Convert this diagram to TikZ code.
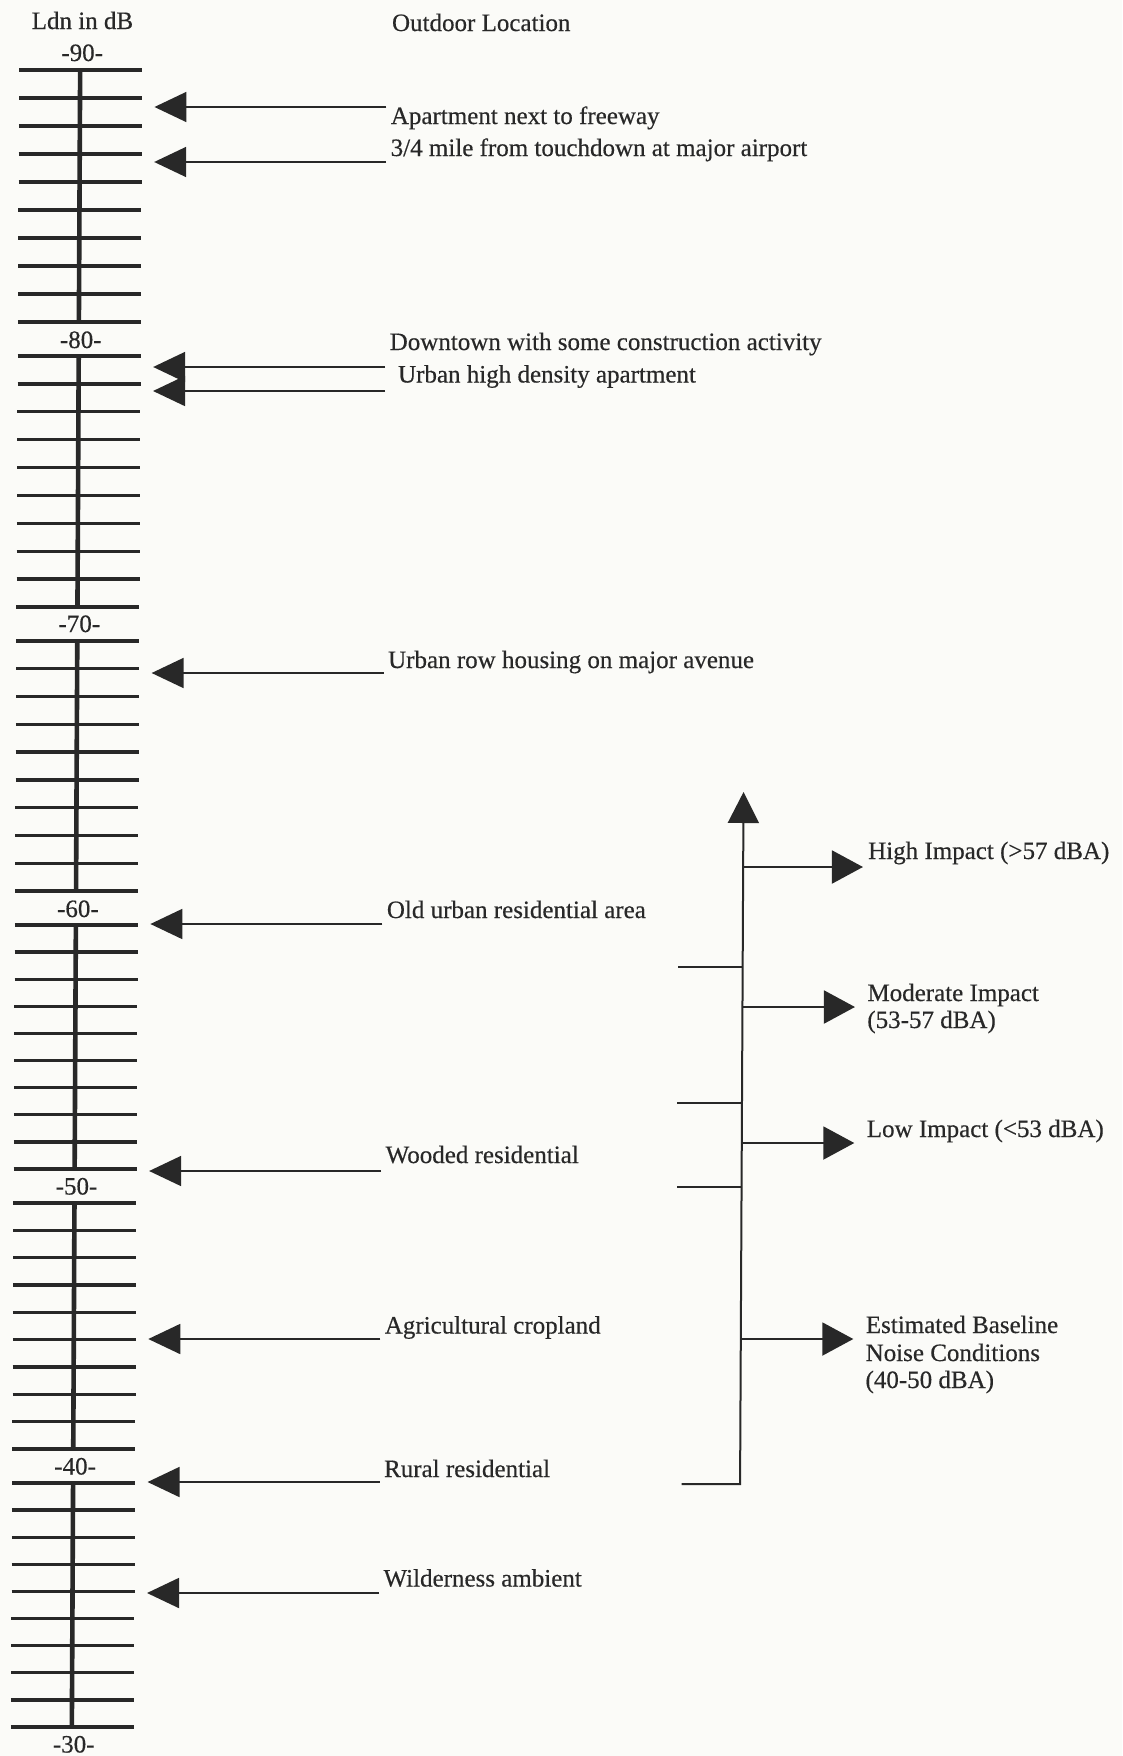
\documentclass[tikz,border=0pt]{standalone}
\usepackage{fontspec}
\setmainfont{Liberation Serif}[FakeBold=0.4]
\usetikzlibrary{arrows.meta}
\definecolor{ink}{HTML}{282828}
\definecolor{paper}{HTML}{FBFBF8}
\begin{document}
\begin{tikzpicture}[x=1pt,y=-1pt,
  font=\fontsize{25}{27}\selectfont,
  every node/.style={inner sep=0pt, outer sep=0pt, text=ink},
  tickmark/.style={line width=3.4pt, draw=ink},
  spine/.style={line width=4.6pt, draw=ink},
  lbl/.style={anchor=base west},
  larrow/.style={draw=ink, line width=1.8pt, -{Triangle[length=32pt,width=30pt]}},
  rarrow/.style={draw=ink, line width=2pt, -{Triangle[length=31pt,width=33pt]}},
  rline/.style={draw=ink, line width=2pt, line join=miter},
]
\fill[paper] (0,0) rectangle (1122,1756);
\useasboundingbox (0,0) rectangle (1122,1756);
\begin{scope}[xslant=0.005]
% ---- scale ----
\node[anchor=base] (title) at (82.6,29) {Ldn in dB};
\node[lbl] (outdoor) at (392.2,31) {Outdoor Location};
\foreach \d/\yz/\ye/\lb in {90/70/322/61, 80/356/607/348, 70/641/891/632, 60/925/1169/917, 50/1203/1449/1194.5, 40/1483/1727/1474.5} {
  \pgfmathsetmacro\st{(\ye-\yz)/9}
  \foreach \k in {0,...,9} {
    \draw[tickmark] (19.5,{\yz+\st*\k}) -- (142.5,{\yz+\st*\k});
  }
  \draw[spine] (80.5,\yz) -- (80.5,\ye);
  \node[anchor=base] (lab\d) at (82.5,\lb) {-\d-};
}
\node[anchor=base] (lab30) at (82.5,1752.5) {-30-};
% ---- left arrows ----
\foreach \n/\y in {a/107,b/162,c/367,d/391,e/673,f/924,g/1171,h/1339,i/1482,j/1593} {
  \coordinate (s\n) at (387,\y);
  \coordinate (t\n) at (155,\y);
  \draw[larrow] (s\n) -- (t\n);
}
\node[lbl] (ta) at (391.5,124) {Apartment next to freeway};
\node[lbl] (tb) at (391.5,156) {3/4 mile from touchdown at major airport};
\node[lbl] (tc) at (391.5,350) {Downtown with some construction activity};
\node[lbl] (td) at (400,382.5) {Urban high density apartment};
\node[lbl] (te) at (391.5,668) {Urban row housing on major avenue};
\node[lbl] (tf) at (391.5,918) {Old urban residential area};
\node[lbl] (tg) at (391.5,1163) {Wooded residential};
\node[lbl] (th) at (391.5,1333.5) {Agricultural cropland};
\node[lbl] (ti) at (391.5,1477) {Rural residential};
\node[lbl] (tj) at (391.5,1586.5) {Wilderness ambient};
% ---- right bracket ----
\coordinate (vtop) at (747.5,792);
\coordinate (vbot) at (747.5,1484);
\coordinate (bl) at (689,1484);
\draw[rline, -{Triangle[length=31pt,width=31pt]}] (bl) -- (vbot) -- (vtop);
\foreach \n/\y in {p/967,q/1103,r/1187} {
  \coordinate (k\n) at (683,\y);
  \coordinate (m\n) at (747.5,\y);
  \draw[rline] (k\n) -- (m\n);
}
\foreach \n/\y/\x in {hi/867/867.3,mo/1007/860,lo/1143/860,es/1339/860} {
  \coordinate (b\n) at (747.5,\y);
  \coordinate (e\n) at (\x,\y);
  \draw[rarrow] (b\n) -- (e\n);
}
\node[lbl] (nhi) at (872.5,859) {High Impact (>57 dBA)};
\node[lbl] (nmo1) at (872.5,1001) {Moderate Impact};
\node[lbl] (nmo2) at (872.5,1028) {(53-57 dBA)};
\node[lbl] (nlo) at (872.5,1137) {Low Impact (<53 dBA)};
\node[lbl] (nes1) at (872.5,1333) {Estimated Baseline};
\node[lbl] (nes2) at (872.5,1361) {Noise Conditions};
\node[lbl] (nes3) at (872.5,1388) {(40-50 dBA)};
\end{scope}
\end{tikzpicture}
\end{document}
